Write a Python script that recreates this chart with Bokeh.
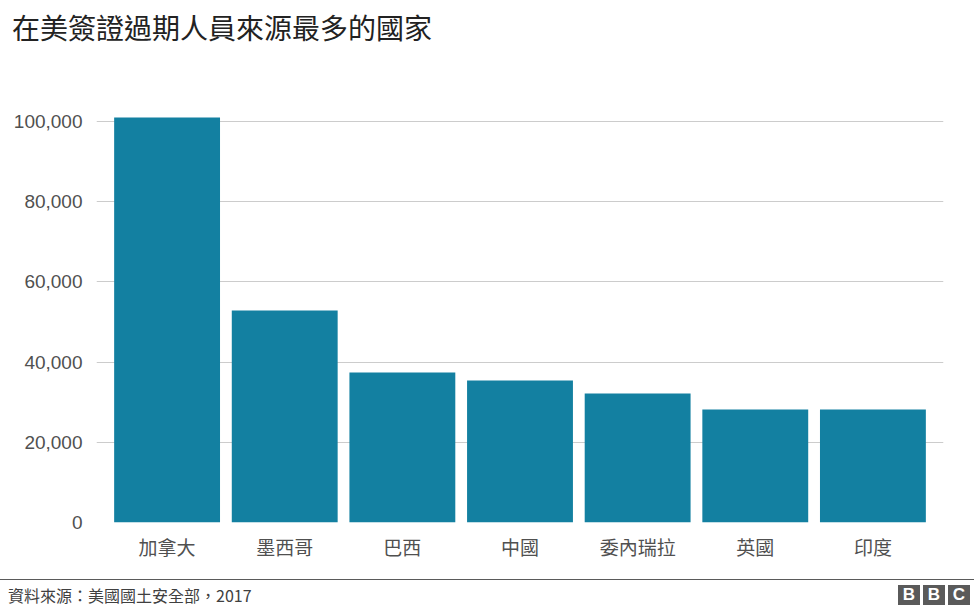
from bokeh.plotting import figure
from bokeh.models import FactorRange, Range1d, NumeralTickFormatter, FixedTicker, Div
from bokeh.layouts import column
from bokeh.embed import file_html
from bokeh.resources import INLINE

# ---- data ----
title_text = "在美簽證過期人員來源最多的國家"
source_text = "資料來源：美國國土安全部，2017"
countries = ["加拿大", "墨西哥", "巴西", "中國", "委內瑞拉", "英國", "印度"]
overstays = [101000, 52900, 37400, 35400, 32200, 28200, 28200]
y_ticks = [0, 20000, 40000, 60000, 80000, 100000]
logo_letters = ["B", "B", "C"]

BAR = "#1380A1"
GRID = "#cccccc"
TXT = "#505050"
CJK = "Noto Sans CJK TC"

W = 974
HEAD_H, MAIN_H, FOOT_H = 60, 515, 32
FL, FR, FT, FB = 96, 943, 105, 522   # frame edges in page pixels

# ---- header ----
head = Div(width=W, height=HEAD_H, margin=0,
           text=(f"<div style='position:relative;width:{W}px;height:{HEAD_H}px;'>"
                 f"<div style='position:absolute;left:12px;top:12px;white-space:nowrap;"
                 f"font-family:\"{CJK}\";font-size:28px;line-height:30px;color:#222222;'>"
                 f"{title_text}</div></div>"))

# ---- main chart ----
p = figure(width=W, height=MAIN_H, output_backend="svg", toolbar_location=None,
           x_range=FactorRange(factors=countries, range_padding=0.1,
                               range_padding_units="absolute"),
           y_range=Range1d(0, 104000),
           min_border_left=FL, min_border_right=W - FR,
           min_border_top=FT - HEAD_H, min_border_bottom=HEAD_H + MAIN_H - FB)
p.vbar(x=countries, top=overstays, width=0.9, fill_color=BAR, line_color=None)
p.outline_line_color = None
p.xgrid.grid_line_color = None
p.ygrid.grid_line_color = GRID
p.ygrid.grid_line_width = 1
p.yaxis.ticker = FixedTicker(ticks=y_ticks)
p.yaxis.formatter = NumeralTickFormatter(format="0,0")
p.yaxis.axis_line_color = None
p.yaxis.major_tick_line_color = None
p.yaxis.minor_tick_line_color = None
p.yaxis.major_label_text_font = "Liberation Sans"
p.yaxis.major_label_text_font_size = "19px"
p.yaxis.major_label_text_color = TXT
p.yaxis.major_label_standoff = 8
p.xaxis.axis_line_color = None
p.xaxis.major_tick_line_color = None
p.xaxis.minor_tick_line_color = None
p.xaxis.major_label_text_font = CJK
p.xaxis.major_label_text_font_size = "19px"
p.xaxis.major_label_text_color = TXT
p.xaxis.major_label_standoff = 4

# ---- footer ----
boxes = ""
for left, letter in zip([898, 923, 948], logo_letters):
    boxes += (f"<div style='position:absolute;left:{left}px;top:10px;width:22px;height:20px;"
              f"background:#5a5a5a;color:white;font-family:\"Liberation Sans\";"
              f"font-weight:bold;font-size:17px;line-height:20px;text-align:center;'>"
              f"{letter}</div>")
foot = Div(width=W, height=FOOT_H, margin=0,
           text=(f"<div style='position:relative;width:{W}px;height:{FOOT_H}px;'>"
                 f"<div style='position:absolute;left:0px;top:4px;width:{W}px;height:0px;"
                 f"border-top:1.5px solid #5a5a5a;'></div>"
                 f"<div style='position:absolute;left:8px;top:12px;white-space:nowrap;"
                 f"font-family:\"{CJK}\";font-size:16px;line-height:16px;color:#404040;'>"
                 f"{source_text}</div>{boxes}</div>"))

layout = column(head, p, foot, spacing=0)
open("out.html", "w").write(file_html(layout, INLINE))
